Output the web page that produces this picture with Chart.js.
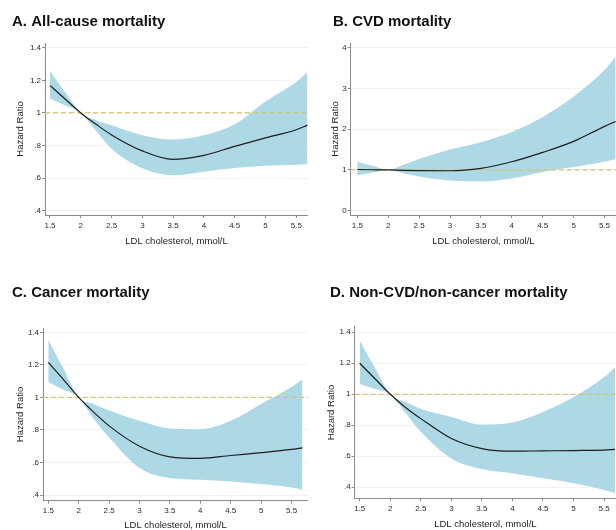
<!DOCTYPE html>
<html>
<head>
<meta charset="utf-8">
<script src="https://cdn.jsdelivr.net/npm/chart.js@4.4.1/dist/chart.umd.min.js"></script>
<style>
  html, body { margin: 0; padding: 0; background: #fff; }
  #wrap { position: relative; width: 616px; height: 530px; overflow: hidden; }
  .panel { position: absolute; width: 308px; height: 265px; }
</style>
</head>
<body>
<div id="wrap">
  <div class="panel" style="left:0;top:0"><canvas id="chartA"></canvas></div>
  <div class="panel" style="left:308px;top:0"><canvas id="chartB"></canvas></div>
  <div class="panel" style="left:0;top:265px"><canvas id="chartC"></canvas></div>
  <div class="panel" style="left:308px;top:265px"><canvas id="chartD"></canvas></div>
</div>
<script>
// LDL cholesterol grid (mmol/L) where the curves were read
const ldl = [1.5, 1.75, 2, 2.25, 2.5, 3, 3.5, 4, 4.5, 5, 5.5, 5.68];
const xTicks = [1.5, 2, 2.5, 3, 3.5, 4, 4.5, 5, 5.5];
const hrTicks = [0.4, 0.6, 0.8, 1, 1.2, 1.4];
const cvdTicks = [0, 1, 2, 3, 4];
const refHR = 1;

// A. All-cause
const allHR = [1.169, 1.084, 1.0, 0.93, 0.865, 0.767, 0.715, 0.74, 0.795, 0.847, 0.897, 0.925];
const allHi = [1.255, 1.125, 1.0, 0.955, 0.924, 0.863, 0.837, 0.863, 0.93, 1.07, 1.19, 1.25];
const allLo = [1.088, 1.045, 1.0, 0.89, 0.78, 0.66, 0.618, 0.64, 0.663, 0.676, 0.682, 0.685];

// B. CVD
const cvdHR = [1.01, 1.005, 1.0, 0.99, 0.985, 0.98, 1.04, 1.2, 1.43, 1.7, 2.07, 2.19];
const cvdHi = [1.2, 1.1, 1.0, 1.13, 1.27, 1.5, 1.68, 1.93, 2.3, 2.8, 3.45, 3.78];
const cvdLo = [0.87, 0.93, 1.0, 0.92, 0.84, 0.74, 0.72, 0.79, 0.95, 1.07, 1.2, 1.26];

// C. Cancer
const canHR = [1.215, 1.11, 1.0, 0.908, 0.825, 0.70, 0.635, 0.625, 0.643, 0.66, 0.68, 0.69];
const canHi = [1.354, 1.177, 1.0, 0.96, 0.919, 0.856, 0.809, 0.805, 0.856, 0.96, 1.064, 1.11];
const canLo = [1.095, 1.047, 1.0, 0.867, 0.753, 0.566, 0.504, 0.494, 0.483, 0.467, 0.446, 0.432];

// D. Non-CVD/non-cancer
const othHR = [1.2, 1.1, 1.0, 0.915, 0.843, 0.715, 0.65, 0.633, 0.635, 0.637, 0.64, 0.644];
const othHi = [1.346, 1.17, 1.0, 0.95, 0.907, 0.854, 0.805, 0.818, 0.886, 0.982, 1.111, 1.175];
const othLo = [1.068, 1.034, 1.0, 0.88, 0.758, 0.586, 0.518, 0.49, 0.458, 0.426, 0.383, 0.362];

const FONT = 'Arial, "Liberation Sans", Helvetica, sans-serif';
const AXIS = '#8a8a8a';
const BAND = '#add8e6';

function stataLabel(v) {
    return String(+Number(v).toFixed(1)).replace(/^0\./, '.');
}

function pts(vals) {
    return vals.map((y, i) => ({ x: ldl[i], y: y }));
}

function makePanel(id, title, hr, lo, hi, yTicks, lay) {
    const ctx = document.getElementById(id);
    new Chart(ctx, {
        type: 'line',
        data: {
            datasets: [
                {
                    data: pts(hr),
                    borderColor: '#1e1e1e',
                    borderWidth: 1.2,
                    pointRadius: 0,
                    cubicInterpolationMode: 'monotone',
                    fill: false,
                    order: 0
                },
                {
                    data: [{ x: lay.xMin, y: refHR }, { x: lay.xMax, y: refHR }],
                    borderColor: '#d4c46c',
                    borderDash: [5, 3],
                    borderWidth: 1.2,
                    pointRadius: 0,
                    fill: false,
                    order: 1
                },
                {
                    data: pts(hi),
                    borderColor: 'rgba(0,0,0,0)',
                    borderWidth: 0,
                    backgroundColor: BAND,
                    pointRadius: 0,
                    cubicInterpolationMode: 'monotone',
                    fill: '+1',
                    order: 2
                },
                {
                    data: pts(lo),
                    borderColor: 'rgba(0,0,0,0)',
                    borderWidth: 0,
                    pointRadius: 0,
                    cubicInterpolationMode: 'monotone',
                    fill: false,
                    order: 3
                }
            ]
        },
        options: {
            responsive: true,
            maintainAspectRatio: false,
            animation: false,
            events: [],
            layout: { padding: { left: lay.padLeft, right: 0, top: 0, bottom: 0 } },
            plugins: {
                legend: { display: false },
                tooltip: { enabled: false },
                title: {
                    display: true,
                    text: title,
                    align: 'start',
                    color: '#111',
                    font: { family: FONT, size: 15, weight: 'bold', lineHeight: 1.2 },
                    padding: { top: lay.titleTop, bottom: lay.titleBottom }
                }
            },
            scales: {
                x: {
                    type: 'linear',
                    min: lay.xMin,
                    max: lay.xMax,
                    afterBuildTicks: ax => { ax.ticks = xTicks.map(v => ({ value: v })); },
                    afterFit: ax => { ax.height = lay.xAxisH; ax.paddingLeft = 0; ax.paddingRight = 0; },
                    grid: { drawOnChartArea: false, drawTicks: true, tickLength: 3, tickColor: AXIS },
                    border: { color: AXIS, width: 1 },
                    ticks: {
                        font: { family: FONT, size: 8 },
                        color: '#2a2a2a',
                        padding: 2.5,
                        maxRotation: 0,
                        autoSkip: false,
                        callback: v => String(v)
                    },
                    title: {
                        display: true,
                        text: 'LDL cholesterol, mmol/L',
                        color: '#222',
                        font: { family: FONT, size: 9.5, lineHeight: 1.2 },
                        padding: { top: 0, bottom: lay.xTitlePad }
                    }
                },
                y: {
                    min: lay.yMin,
                    max: lay.yMax,
                    afterBuildTicks: ax => { ax.ticks = yTicks.map(v => ({ value: v })); },
                    afterFit: ax => { ax.width = lay.yAxisW; ax.paddingTop = 0; ax.paddingBottom = 0; },
                    grid: { color: '#f1f1f1', drawTicks: true, tickLength: 3, tickColor: AXIS },
                    border: { color: AXIS, width: 1 },
                    ticks: {
                        font: { family: FONT, size: 8 },
                        color: '#2a2a2a',
                        padding: 1,
                        autoSkip: false,
                        callback: v => stataLabel(v)
                    },
                    title: {
                        display: true,
                        text: 'Hazard Ratio',
                        color: '#222',
                        font: { family: FONT, size: 9.5, lineHeight: 1.2 },
                        padding: { top: lay.yTitlePad, bottom: 0 }
                    }
                }
            }
        }
    });
}

makePanel('chartA', 'A. All-cause mortality', allHR, allLo, allHi, hrTicks, {
    padLeft: 12, yAxisW: 33, yTitlePad: 2.9, titleTop: 12.7, titleBottom: 12.3,
    xAxisH: 50, xTitlePad: 17.6, xMin: 1.419, xMax: 5.69, yMin: 0.374, yMax: 1.429
});
makePanel('chartB', 'B. CVD mortality', cvdHR, cvdLo, cvdHi, cvdTicks, {
    padLeft: 25, yAxisW: 17.7, yTitlePad: -3.4, titleTop: 12.7, titleBottom: 12.3,
    xAxisH: 50, xTitlePad: 17.6, xMin: 1.393, xMax: 5.686, yMin: -0.106, yMax: 4.115
});
makePanel('chartC', 'C. Cancer mortality', canHR, canLo, canHi, hrTicks, {
    padLeft: 12, yAxisW: 31, yTitlePad: 2.9, titleTop: 19.3, titleBottom: 26,
    xAxisH: 29.3, xTitlePad: -1.2, xMin: 1.413, xMax: 5.771, yMin: 0.365, yMax: 1.425
});
makePanel('chartD', 'D. Non-CVD/non-cancer mortality', othHR, othLo, othHi, hrTicks, {
    padLeft: 22, yAxisW: 24.7, yTitlePad: -4.4, titleTop: 19.3, titleBottom: 24.4,
    xAxisH: 31.7, xTitlePad: -0.2, xMin: 1.418, xMax: 5.695, yMin: 0.329, yMax: 1.436
});
</script>
</body>
</html>
